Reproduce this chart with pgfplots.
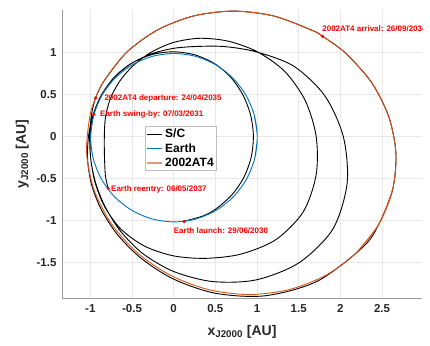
\documentclass[border=0pt]{standalone}
\usepackage{fontspec}
\setmainfont{Liberation Sans}
\usepackage{pgfplots}
\pgfplotsset{compat=1.18}
\definecolor{mblue}{rgb}{0,0.447,0.741}
\definecolor{morange}{rgb}{0.85,0.325,0.098}
\definecolor{tickgray}{rgb}{0.15,0.15,0.15}
\begin{document}
\begin{tikzpicture}
\begin{axis}[
  scale only axis, width=360pt, height=288pt,
  xmin=-1.34, xmax=2.98, ymin=-1.92, ymax=1.5,
  axis x line*=bottom, axis y line*=left,
  axis line style={black!40, line width=0.6pt},
  xtick={-1,-0.5,0,0.5,1,1.5,2,2.5},
  ytick={-1.5,-1,-0.5,0,0.5,1},
  grid=major, grid style={black!9, line width=0.5pt},
  tick style={draw=none},
  /pgf/number format/assume math mode=true,
  tick label style={font=\bfseries\fontsize{11.5}{13}\selectfont, text=tickgray},
  yticklabel style={xshift=-2pt},
  xticklabel style={yshift=-3pt},
  xlabel={\textbf{x\textsubscript{J2000} [AU]}},
  ylabel={\textbf{y\textsubscript{J2000} [AU]}},
  label style={font=\fontsize{14}{16}\selectfont, text=tickgray},
  xlabel style={at={([yshift=-37pt]axis description cs:0.5,0)}, anchor=base},
  ylabel style={at={([xshift=-36pt]axis description cs:0,0.5)}, anchor=base, rotate=0},
  legend style={at={(rel axis cs:0.2306,0.597)}, anchor=north west, draw=black!25, fill=white,
    font=\bfseries\fontsize{12}{13}\selectfont, inner xsep=1pt, inner ysep=1pt, row sep=0pt,
    cells={anchor=west}},
  legend image code/.code={\draw[#1] (0pt,0pt) -- (15pt,0pt);},
  clip=true,
]
% S/C trajectory: launch -> swing-by -> spiral -> arrival -> stay -> departure -> return -> reentry
\addplot[black, line width=0.9pt, smooth] coordinates {
(0.124,-1.009) (0.345,-0.948) (0.5005,-0.8669) (0.6972,-0.6972) (0.8428,-0.4866) (0.9298,-0.2491) (0.9565,0) (0.9245,0.2477) (0.8356,0.4825) (0.6923,0.6923) (0.4964,0.8597) (0.2589,0.9661) (0,1.0037) (-0.2602,0.9711) (-0.502,0.8695) (-0.7077,0.7077) (-0.8621,0.4978) (-0.958,0.262)
(-1.0,0) (-0.9949,-0.2666) (-0.9396,-0.5425) (-0.8273,-0.8273) (-0.645,-1.1172) (-0.3727,-1.3909) (0,-1.605) (0.462,-1.7242) (0.985,-1.706) (1.5026,-1.5026) (1.9096,-1.1025) (2.0815,-0.5577) (2.035,0) (1.8111,0.4853) (1.4419,0.8325) (1.0006,1.0006) (0.615,1.0652) (0.286,1.0673) (0,1.045) (-0.2627,0.9804) (-0.5015,0.8686) (-0.7057,0.7057) (-0.8634,0.4985) (-0.9659,0.2588)
(-1.022,0) (-1.0325,-0.2767) (-0.9864,-0.5695) (-0.869,-0.869) (-0.674,-1.1674) (-0.3885,-1.4498) (0,-1.696) (0.4992,-1.8633) (1.0935,-1.894) (1.7218,-1.7218) (2.2741,-1.313)
(2.463,-1.041) (2.627,-0.635) (2.667,-0.200) (2.580,0.236) (2.373,0.642) (2.059,0.991) (1.787,1.188)
(1.660,1.259) (1.204,1.428) (0.721,1.487) (0.243,1.430) (-0.195,1.263) (-0.565,0.997) (-0.841,0.649) (-0.936,0.456)
(-0.9852,0.264) (-1.008,0) (-0.9949,-0.2666) (-0.9439,-0.545) (-0.8309,-0.8309) (-0.635,-1.0999) (-0.3494,-1.304) (0,-1.42) (0.3882,-1.4489) (0.8075,-1.3986) (1.2268,-1.2268) (1.5545,-0.8975) (1.7097,-0.4581) (1.71,0) (1.5793,0.4232) (1.3337,0.77) (1.0041,1.0041) (0.6525,1.1302) (0.3119,1.1639) (0,1.115) (-0.2679,0.9997) (-0.485,0.84) (-0.6505,0.6505) (-0.7621,0.44) (-0.8191,0.2195) (-0.832,0) (-0.8307,-0.2226) (-0.8184,-0.4725) (-0.7848,-0.6198)
};
\addlegendentry{S/C}
% Earth
\addplot[mblue, line width=0.9pt, smooth] coordinates {
(0.9733,-0.2608) (1.0035,0) (0.9651,0.2586) (0.8616,0.4974) (0.7007,0.7007) (0.4938,0.8553) (0.2550,0.9516) (0,0.9837) (-0.2545,0.9498) (-0.4920,0.8522) (-0.6970,0.6970) (-0.8560,0.4942) (-0.9582,0.2567) (-0.9960,0) (-0.9662,-0.2589) (-0.8700,-0.5023) (-0.7132,-0.7132) (-0.5060,-0.8765) (-0.2626,-0.9801) (0,-1.0163) (0.2631,-0.9821) (0.5080,-0.8799) (0.7171,-0.7171) (0.8757,-0.5056) (0.9733,-0.2608) (1.0035,0) (0.9651,0.2586)
};
\addlegendentry{Earth}
% 2002AT4
\addplot[morange, line width=0.9pt, smooth,
  legend image code/.code={\draw[morange!60, line width=2pt] (0pt,0pt) -- (15pt,0pt);}] coordinates {
(2.187,-1.389) (2.463,-1.041) (2.627,-0.635) (2.667,-0.200) (2.580,0.236) (2.373,0.642) (2.059,0.991) (1.787,1.188) (1.660,1.259) (1.204,1.428) (0.721,1.487) (0.243,1.430) (-0.195,1.263) (-0.565,0.997) (-0.841,0.649) (-0.936,0.456) (-1.005,0.243) (-1.045,-0.192) (-0.958,-0.628) (-0.751,-1.034) (-0.437,-1.383) (-0.038,-1.651) (0.418,-1.820) (0.901,-1.879) (1.379,-1.822) (1.817,-1.655) (2.187,-1.389) (2.463,-1.041) (2.627,-0.635)
};
\addlegendentry{2002AT4}
% event markers
\addplot[only marks, mark=*, mark size=1.4pt, red, forget plot] coordinates {
(0.125,-1.012) (-0.958,0.262) (1.787,1.188) (-0.936,0.456) (-0.7848,-0.6198)
};
\begin{scope}[every node/.style={anchor=west, inner sep=0pt, text=red, font=\bfseries\fontsize{8}{9}\selectfont}]
\node at (axis cs:1.782,1.281) {2002AT4 arrival: 26/09/2034};
\node at (axis cs:-0.832,0.451) {2002AT4 departure: 24/04/2035};
\node at (axis cs:-0.884,0.265) {Earth swing-by: 07/03/2031};
\node at (axis cs:-0.752,-0.629) {Earth reentry: 06/05/2037};
\node at (axis cs:0.0,-1.12) {Earth launch: 29/06/2030};
\end{scope}
\end{axis}
\pgfresetboundingbox
\path[use as bounding box] (-62pt,-47pt) rectangle (368pt,298pt);
\end{tikzpicture}
\end{document}
